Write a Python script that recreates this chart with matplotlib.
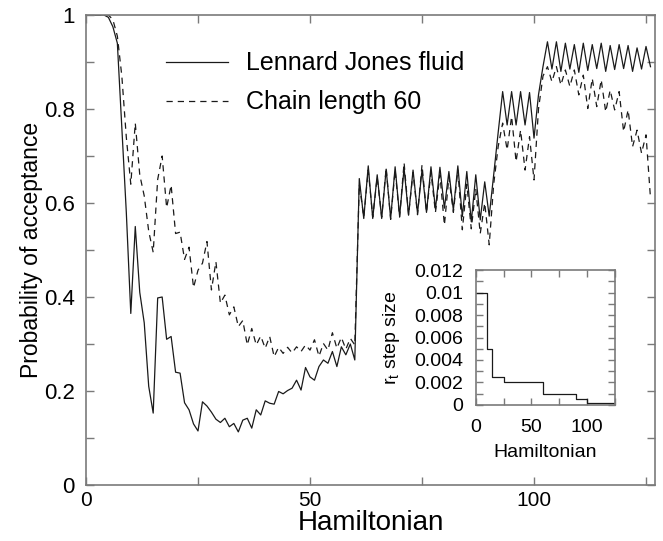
import matplotlib
matplotlib.use("Agg")
import matplotlib.pyplot as plt
from matplotlib.ticker import MultipleLocator

plt.rcParams['font.family'] = ['Liberation Sans', 'DejaVu Sans']

hamiltonian = list(range(2, 127))

lennard_jones = [
    1.0, 1.0, 1.0, 0.995, 0.975, 0.94, 0.76, 0.58, 0.365,            # 2-10
    0.55, 0.41, 0.345, 0.21, 0.153, 0.398, 0.40, 0.31, 0.316, 0.24,  # 11-20
    0.238, 0.175, 0.16, 0.13, 0.115, 0.177, 0.168, 0.155, 0.14, 0.133,  # 21-30
    0.142, 0.124, 0.131, 0.113, 0.138, 0.142, 0.121, 0.16, 0.149, 0.179,  # 31-40
    0.174, 0.172, 0.199, 0.194, 0.201, 0.206, 0.223, 0.202, 0.25, 0.23,  # 41-50
    0.223, 0.252, 0.266, 0.259, 0.284, 0.252, 0.294, 0.277, 0.30, 0.266,  # 51-60
    0.652, 0.567, 0.679, 0.567, 0.66, 0.567, 0.672, 0.567, 0.677, 0.572,  # 61-70
    0.674, 0.574, 0.67, 0.578, 0.67, 0.58, 0.677, 0.587, 0.676, 0.589,  # 71-80
    0.667, 0.585, 0.679, 0.571, 0.667, 0.56, 0.66, 0.564, 0.645, 0.572,  # 81-90
    0.66, 0.75, 0.837, 0.766, 0.837, 0.766, 0.837, 0.766, 0.835, 0.738,  # 91-100
    0.83, 0.89, 0.943, 0.885, 0.943, 0.88, 0.94, 0.885, 0.937, 0.878,  # 101-110
    0.94, 0.882, 0.937, 0.886, 0.94, 0.88, 0.935, 0.884, 0.937, 0.886,  # 111-120
    0.935, 0.88, 0.93, 0.885, 0.933, 0.89,                            # 121-126
]

chain_60 = [
    1.0, 1.0, 1.0, 1.0, 0.99, 0.955, 0.87, 0.74, 0.64,               # 2-10
    0.77, 0.66, 0.615, 0.54, 0.495, 0.65, 0.70, 0.59, 0.638, 0.535,  # 11-20
    0.538, 0.48, 0.506, 0.42, 0.457, 0.472, 0.518, 0.415, 0.475, 0.387,  # 21-30
    0.404, 0.362, 0.379, 0.337, 0.35, 0.298, 0.333, 0.298, 0.317, 0.291,  # 31-40
    0.316, 0.273, 0.293, 0.28, 0.293, 0.281, 0.294, 0.284, 0.298, 0.287,  # 41-50
    0.309, 0.274, 0.301, 0.287, 0.324, 0.291, 0.314, 0.289, 0.312, 0.298,  # 51-60
    0.64, 0.57, 0.67, 0.57, 0.655, 0.57, 0.675, 0.565, 0.67, 0.57,  # 61-70
    0.686, 0.575, 0.665, 0.575, 0.681, 0.58, 0.665, 0.58, 0.66, 0.553,  # 71-80
    0.655, 0.58, 0.67, 0.543, 0.64, 0.545, 0.63, 0.535, 0.60, 0.511,  # 81-90
    0.64, 0.72, 0.77, 0.713, 0.784, 0.688, 0.755, 0.67, 0.741, 0.649,  # 91-100
    0.80, 0.87, 0.89, 0.858, 0.89, 0.851, 0.883, 0.848, 0.883, 0.83,  # 101-110
    0.872, 0.801, 0.865, 0.805, 0.862, 0.794, 0.84, 0.798, 0.837, 0.752,  # 111-120
    0.798, 0.72, 0.755, 0.706, 0.745, 0.61,                           # 121-126
]

# inset: step size schedule
step_start = [0, 10, 14, 25, 60, 90, 100, 126]
step_size = [0.01, 0.005, 0.0025, 0.002, 0.001, 0.0005, 0.0002, 0.0002]

line_col = '#1a1a1a'
frame_col = '#7a7a7a'

fig = plt.figure(figsize=(6.63, 5.41), dpi=100)
ax = fig.add_axes([0.1297, 0.1035, 0.8582, 0.8688])

ax.plot(hamiltonian, lennard_jones, color=line_col, lw=0.9, label='Lennard Jones fluid')
ax.plot(hamiltonian, chain_60, color=line_col, lw=0.9, dashes=(5, 4), label='Chain length 60')

ax.set_xlim(0, 127)
ax.set_ylim(0, 1)
ax.xaxis.set_major_locator(MultipleLocator(50))
ax.xaxis.set_minor_locator(MultipleLocator(25))
ax.yaxis.set_major_locator(MultipleLocator(0.2))
ax.yaxis.set_minor_locator(MultipleLocator(0.1))
ax.yaxis.set_major_formatter(plt.FuncFormatter(lambda v, p: '%g' % v))
ax.tick_params(which='both', direction='in', top=True, right=True, length=6,
               width=1, color=frame_col)
ax.tick_params(axis='y', labelsize=16, pad=8)
ax.tick_params(axis='x', labelsize=15, pad=4)
for s in ax.spines.values():
    s.set_color(frame_col)
    s.set_linewidth(1.2)

ax.set_xlabel('Hamiltonian', fontsize=20, labelpad=0)
ax.set_ylabel('Probability of acceptance', fontsize=16.5, labelpad=1)

leg = ax.legend(loc='upper left', bbox_to_anchor=(0.123, 0.944), frameon=False,
                fontsize=18, handlelength=2.5, handletextpad=0.7,
                labelspacing=0.6, borderaxespad=0)

# inset
ins = fig.add_axes([0.718, 0.2514, 0.2097, 0.2495])
ins.step(step_start, step_size, where='post', color=line_col, lw=0.9)
ins.set_xlim(0, 125.5)
ins.set_ylim(0, 0.012)
ins.xaxis.set_major_locator(MultipleLocator(50))
ins.xaxis.set_minor_locator(MultipleLocator(25))
ins.yaxis.set_major_locator(MultipleLocator(0.002))
ins.yaxis.set_minor_locator(MultipleLocator(0.001))
ins.yaxis.set_major_formatter(plt.FuncFormatter(lambda v, p: '%g' % v))
ins.tick_params(which='both', direction='in', top=True, right=True, length=5,
                width=1, color=frame_col, labelsize=14)
ins.tick_params(axis='y', pad=9)
ins.tick_params(axis='x', pad=10)
for s in ins.spines.values():
    s.set_color(frame_col)
    s.set_linewidth(1.2)
ins.set_xlabel('Hamiltonian', fontsize=14, labelpad=6)
ins.set_ylabel('r$_\\mathregular{t}$ step size', fontsize=14, labelpad=9)

fig.savefig('out.png', dpi=100)
